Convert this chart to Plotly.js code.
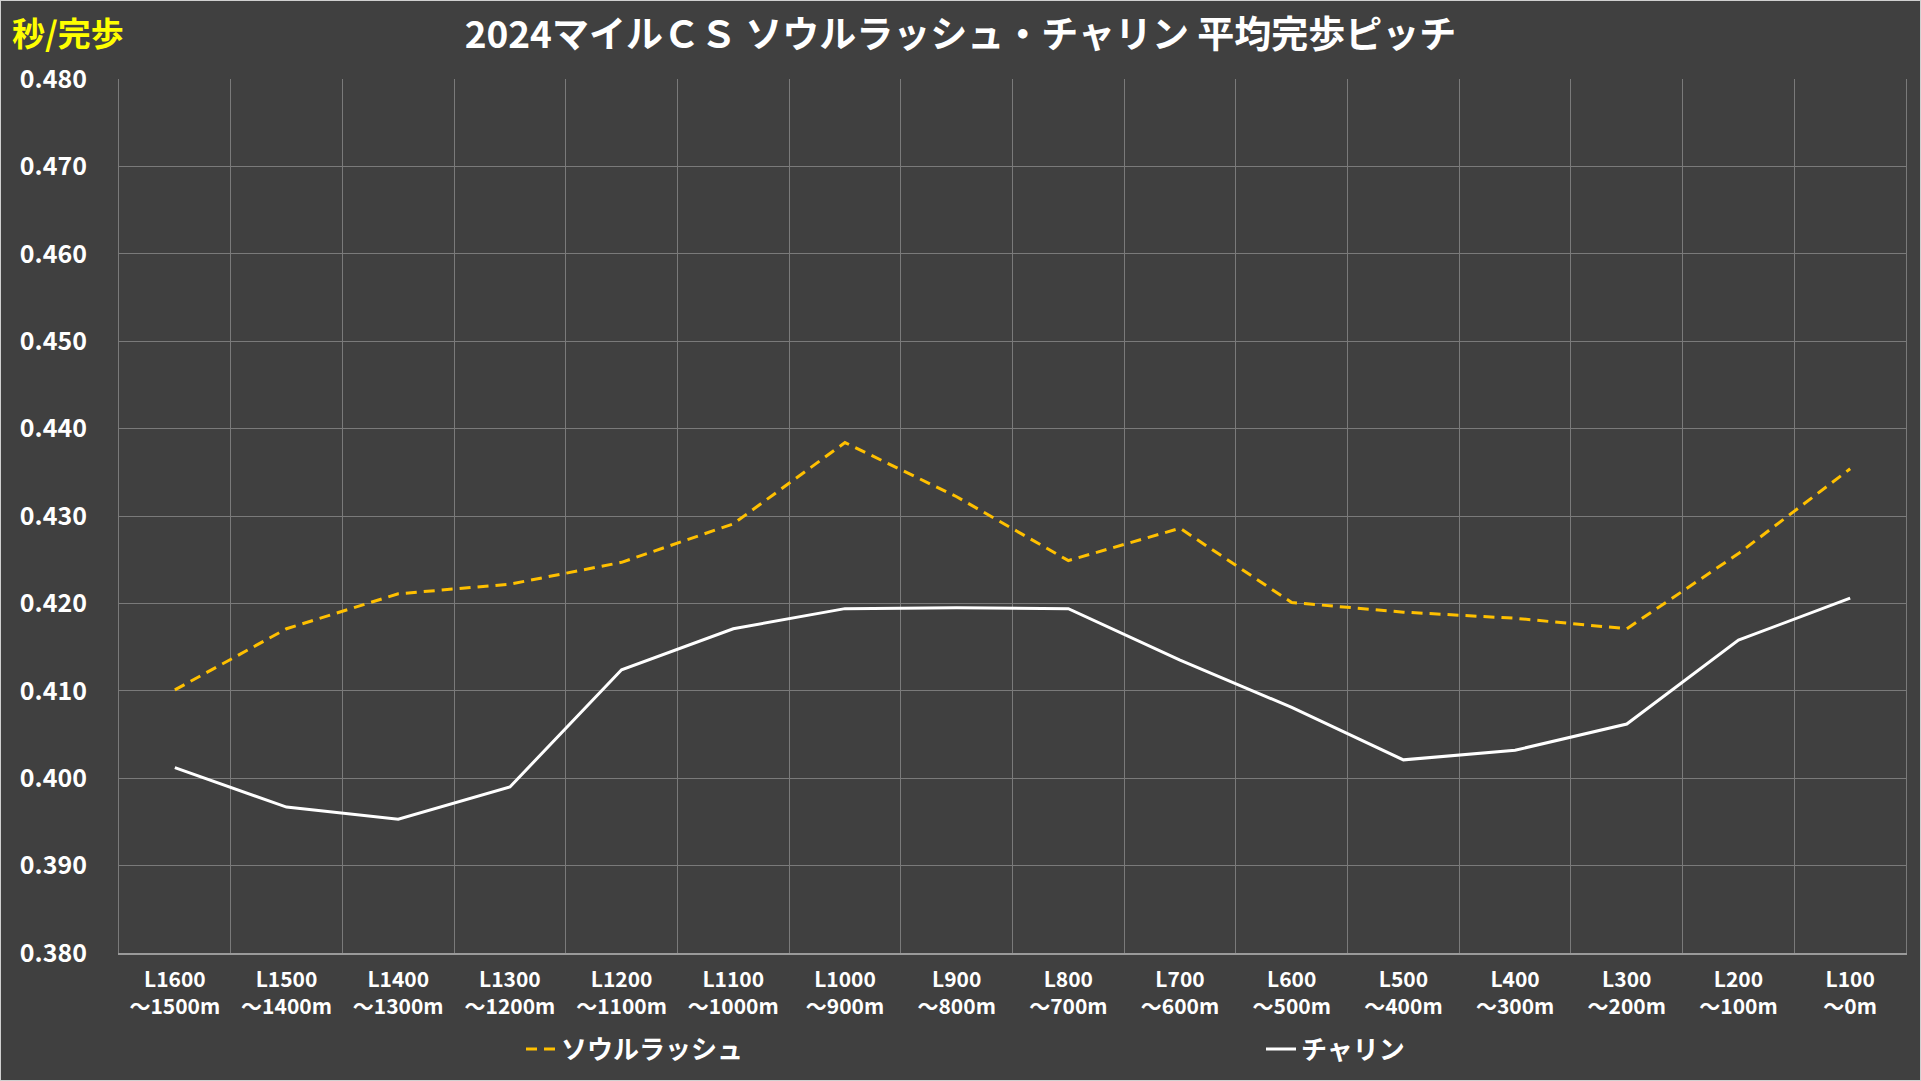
<!DOCTYPE html>
<html>
<head>
<meta charset="utf-8">
<script src="https://cdn.plot.ly/plotly-3.0.1.min.js"></script>
<style>
html, body { margin: 0; padding: 0; background: #d9d9d9; }
#chart { position: absolute; left: 0; top: 0; width: 1921px; height: 1081px; }
#frame { position: absolute; left: 0; top: 0; width: 1919px; height: 1079px; border: 1px solid #d0d0d0; pointer-events: none; }
</style>
</head>
<body>
<div id="chart"></div>
<div id="frame"></div>
<script>
const categories = [
  "L1600<br>～1500m", "L1500<br>～1400m", "L1400<br>～1300m", "L1300<br>～1200m",
  "L1200<br>～1100m", "L1100<br>～1000m", "L1000<br>～900m", "L900<br>～800m",
  "L800<br>～700m", "L700<br>～600m", "L600<br>～500m", "L500<br>～400m",
  "L400<br>～300m", "L300<br>～200m", "L200<br>～100m", "L100<br>～0m"
];
const soulRush = [0.4101, 0.4171, 0.4211, 0.4222, 0.4247, 0.4291, 0.4384, 0.4322,
                  0.4249, 0.4286, 0.4201, 0.4190, 0.4183, 0.4171, 0.4257, 0.4354];
const charin   = [0.4012, 0.3967, 0.3953, 0.3990, 0.4124, 0.4171, 0.4194, 0.4195,
                  0.4194, 0.4135, 0.4081, 0.4021, 0.4032, 0.4062, 0.4158, 0.4206];
const seriesNames = ["ソウルラッシュ", "チャリン"];
const titleText = "2024マイルＣＳ ソウルラッシュ・チャリン 平均完歩ピッチ";
const unitText = "秒/完歩";

const FONT = "'Noto Sans CJK JP', 'Noto Sans', sans-serif";

const traces = [
  {
    x: categories, y: soulRush, name: seriesNames[0], type: "scatter", mode: "lines",
    line: { color: "#FFC000", width: 3, dash: "11px,7px" },
    legend: "legend"
  },
  {
    x: categories, y: charin, name: seriesNames[1], type: "scatter", mode: "lines",
    line: { color: "#FFFFFF", width: 3 },
    legend: "legend2"
  }
];

const layout = {
  width: 1921, height: 1081,
  paper_bgcolor: "#404040", plot_bgcolor: "#404040",
  margin: { l: 119, r: 15, t: 79, b: 128, autoexpand: false },
  font: { family: FONT, color: "#FFFFFF" },
  title: {
    text: "<b>" + titleText + "</b>",
    font: { family: FONT, size: 37, color: "#FFFFFF" },
    x: 0.5, xanchor: "center", xref: "container",
    y: 1 - 35 / 1081, yanchor: "middle", yref: "container"
  },
  xaxis: {
    type: "category",
    range: [-0.5, categories.length - 0.5],
    tickson: "boundaries",
    showgrid: true, gridcolor: "#7a7a7a", gridwidth: 1,
    showline: true, linecolor: "#9a9a9a", linewidth: 1.5,
    ticks: "", ticklen: 0,
    tickfont: { family: FONT, size: 21, color: "#FFFFFF", weight: "bold" },
    ticklabelstandoff: 7,
    zeroline: false,
    fixedrange: true
  },
  yaxis: {
    range: [0.380, 0.480],
    dtick: 0.01, tick0: 0.38,
    tickformat: ".3f",
    showgrid: true, gridcolor: "#7a7a7a", gridwidth: 1,
    showline: true, linecolor: "#7a7a7a", linewidth: 1, mirror: true,
    zeroline: false,
    ticks: "",
    tickfont: { family: FONT, size: 25, color: "#FFFFFF", weight: "bold" },
    ticklabelstandoff: 26,
    fixedrange: true
  },
  showlegend: true,
  legend: {
    orientation: "h", x: 521 / 1921, xanchor: "left", xref: "container",
    y: 1 - 1049 / 1081, yanchor: "middle", yref: "container",
    bgcolor: "rgba(0,0,0,0)",
    font: { family: FONT, size: 26, color: "#FFFFFF", weight: "bold" },
    itemwidth: 30
  },
  legend2: {
    orientation: "h", x: 1261 / 1921, xanchor: "left", xref: "container",
    y: 1 - 1049 / 1081, yanchor: "middle", yref: "container",
    bgcolor: "rgba(0,0,0,0)",
    font: { family: FONT, size: 26, color: "#FFFFFF", weight: "bold" },
    itemwidth: 30
  },
  annotations: [
    {
      text: "<b>" + unitText + "</b>",
      xref: "paper", yref: "paper",
      x: (10 - 119) / 1787, xanchor: "left",
      y: (953 - 32) / 874, yanchor: "middle",
      showarrow: false,
      font: { family: FONT, size: 33, color: "#FFFF00" }
    }
  ]
};

Plotly.newPlot("chart", traces, layout, { displayModeBar: false, staticPlot: true });
</script>
</body>
</html>
